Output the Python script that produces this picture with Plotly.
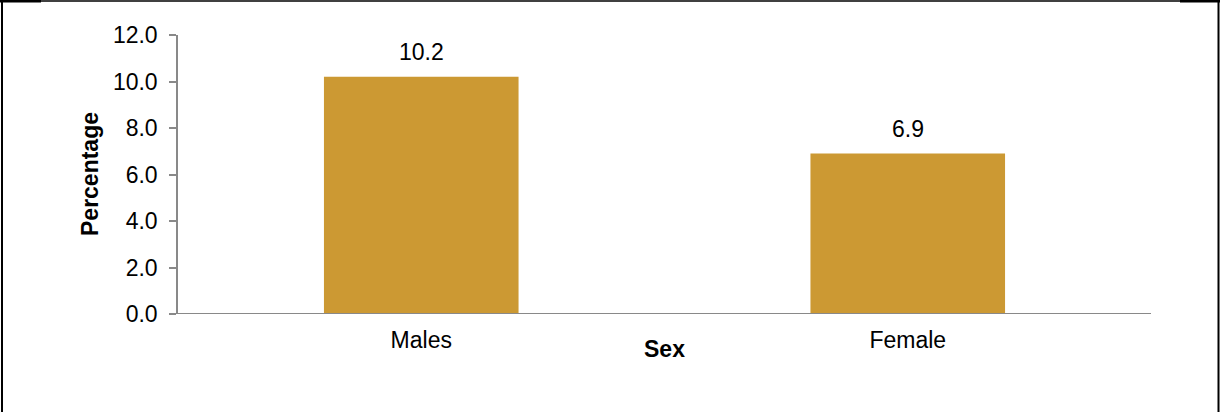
import plotly.graph_objects as go

categories = ["Males", "Female"]
values = [10.2, 6.9]
value_labels = ["10.2", "6.9"]
y_ticks = [0, 2, 4, 6, 8, 10, 12]
y_tick_labels = ["0.0", "2.0", "4.0", "6.0", "8.0", "10.0", "12.0"]

W, H = 1220, 412
L, R, T, B = 178, 69, 35, 98
pw, ph = W - L - R, H - T - B

def px_x(p):
    return (p - L) / pw

def px_y(p):
    return (H - B - p) / ph

FONT = "Liberation Sans, Arial, sans-serif"
AXC = "#898989"
FS = 23

fig = go.Figure()
fig.add_trace(go.Bar(
    x=categories, y=values,
    marker=dict(color="#CC9933", line=dict(width=0)),
    hoverinfo="x+y",
))

for c, v, t in zip(categories, values, value_labels):
    fig.add_annotation(x=c, y=v, text=t, showarrow=False, yanchor="bottom",
                       yshift=10, font=dict(family=FONT, size=FS, color="#000"))

fig.add_annotation(xref="paper", yref="paper", x=0.5, y=px_y(349), text="<b>Sex</b>",
                   showarrow=False, xanchor="center", yanchor="middle",
                   font=dict(family=FONT, size=23, color="#000"))
fig.add_annotation(xref="paper", yref="paper", x=px_x(90), y=px_y(174), text="<b>Percentage</b>",
                   showarrow=False, textangle=-90, xanchor="center", yanchor="middle",
                   font=dict(family=FONT, size=23, color="#000"))

shapes = [
    dict(type="line", xref="paper", yref="y", x0=px_x(171), x1=1, y0=0, y1=0,
         line=dict(color=AXC, width=2)),
    dict(type="line", xref="paper", yref="paper", x0=px_x(0), x1=px_x(1220), y0=px_y(1), y1=px_y(1),
         line=dict(color="#000", width=1.5)),
    dict(type="line", xref="paper", yref="paper", x0=px_x(0), x1=px_x(41), y0=px_y(1), y1=px_y(1),
         line=dict(color="#000", width=3)),
    dict(type="line", xref="paper", yref="paper", x0=px_x(1180), x1=px_x(1220), y0=px_y(1), y1=px_y(1),
         line=dict(color="#000", width=3)),
    dict(type="line", xref="paper", yref="paper", x0=px_x(2), x1=px_x(2), y0=px_y(0), y1=px_y(430),
         line=dict(color="#000", width=2)),
    dict(type="line", xref="paper", yref="paper", x0=px_x(1218.5), x1=px_x(1218.5), y0=px_y(0), y1=px_y(430),
         line=dict(color="#000", width=2)),
]

fig.update_layout(
    width=W, height=H,
    margin=dict(l=L, r=R, t=T, b=B),
    paper_bgcolor="white", plot_bgcolor="white",
    bargap=0.6,
    showlegend=False,
    shapes=shapes,
    font=dict(family=FONT, size=FS, color="#000"),
    xaxis=dict(showline=False, ticks="", showgrid=False, zeroline=False,
               ticklabelstandoff=10,
               tickfont=dict(family=FONT, size=FS, color="#000")),
    yaxis=dict(range=[0, 12], tickvals=y_ticks, ticktext=y_tick_labels,
               showline=True, linecolor=AXC, linewidth=1.5, ticks="outside",
               ticklen=7, tickcolor=AXC, tickwidth=1.5, showgrid=False, zeroline=False,
               ticklabelstandoff=7,
               tickfont=dict(family=FONT, size=FS, color="#000")),
)

fig.write_html("out.html", config={"displayModeBar": False},
               post_script="document.body.style.margin='0';document.body.style.overflow='hidden';")
